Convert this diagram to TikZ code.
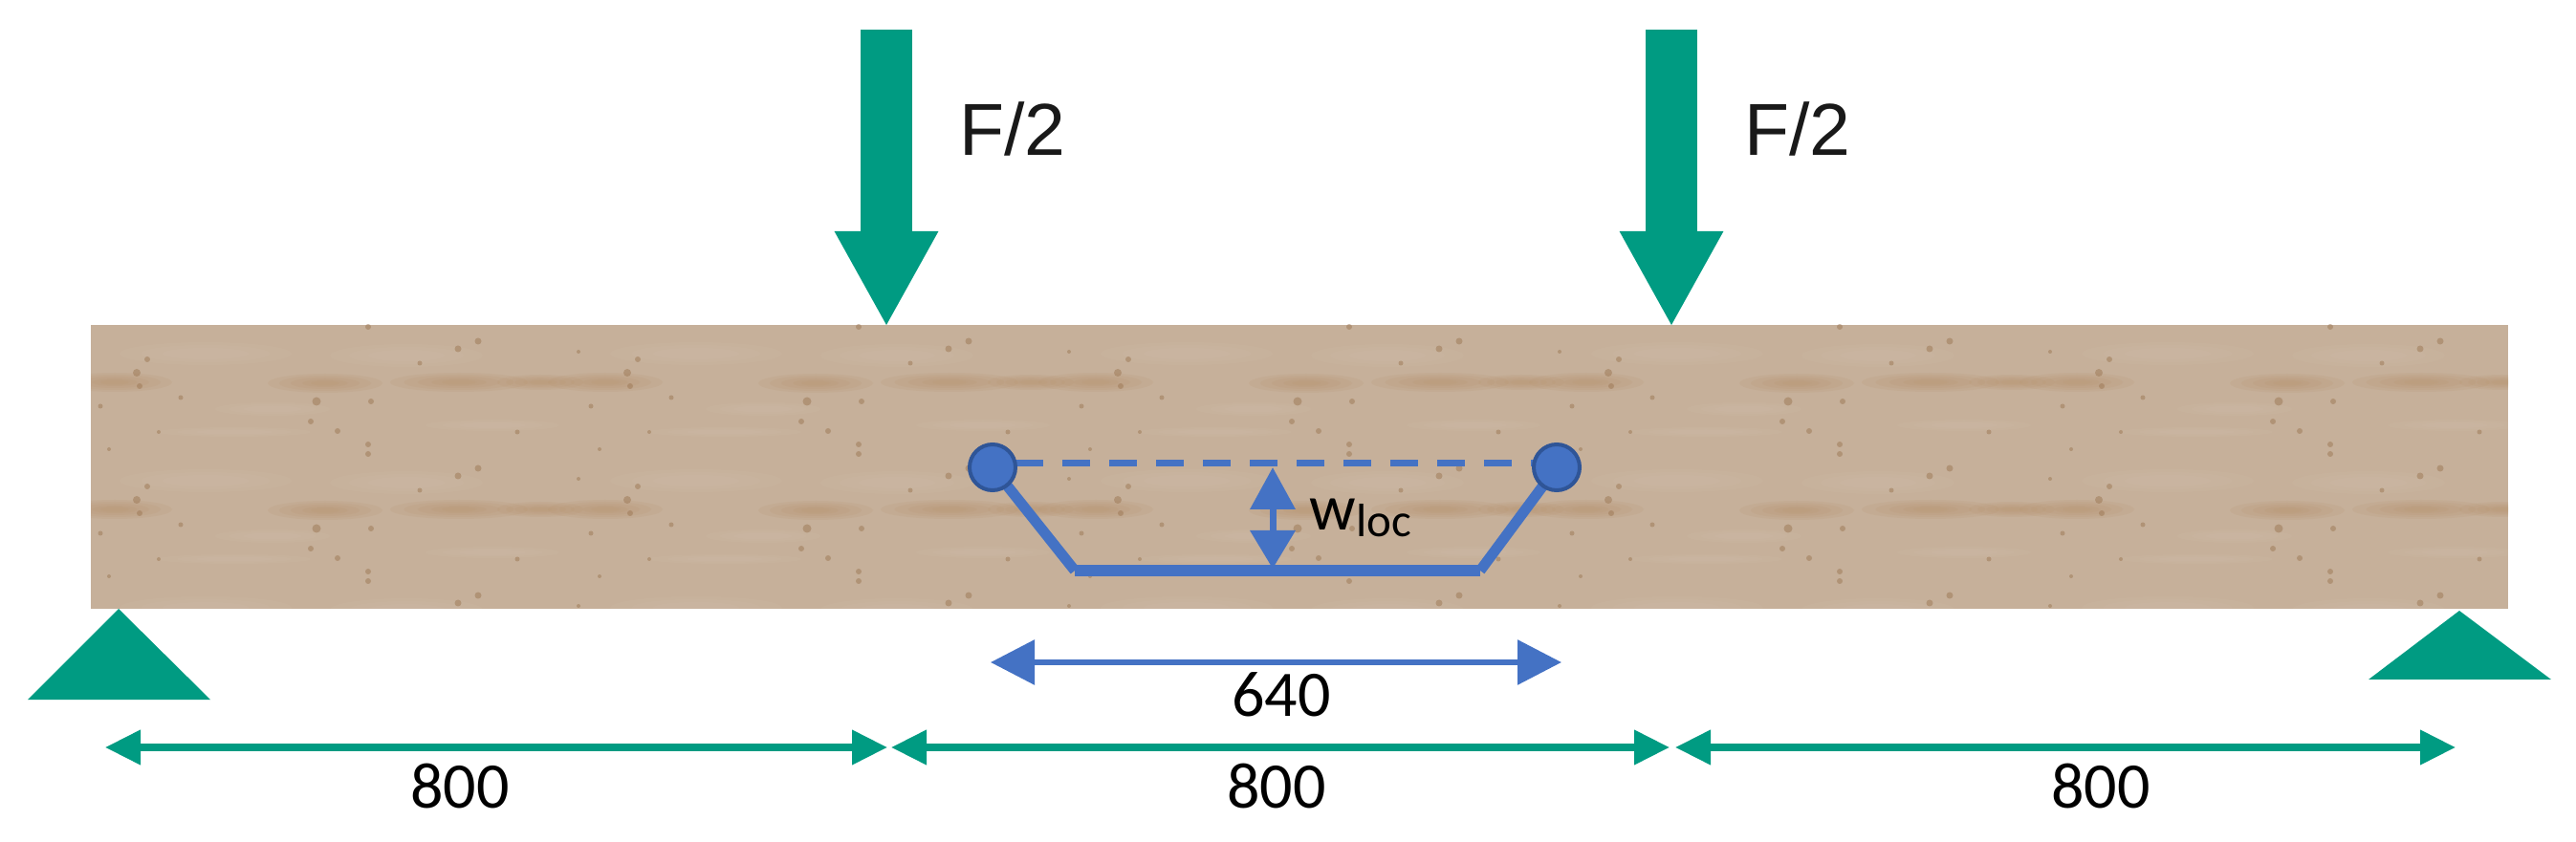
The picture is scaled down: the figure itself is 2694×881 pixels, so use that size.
\documentclass[tikz,border=0pt]{standalone}
\usepackage{fontspec}
\setmainfont{Carlito}
\newfontfamily\arialfont{Liberation Sans}
\usetikzlibrary{arrows.meta}
\definecolor{tealc}{HTML}{009B82}
\definecolor{bluec}{HTML}{4472C4}
\definecolor{bluedk}{HTML}{2F5597}
\definecolor{woodbase}{HTML}{C6B09A}
\definecolor{woodband}{HTML}{B8946F}
\definecolor{woodlight}{HTML}{D6C5B2}
\definecolor{wooddot}{HTML}{9C7753}
\tikzset{
  force/.style={draw=tealc,line width=27pt,-{Triangle[length=50pt,width=50.5pt]}},
  forcelabel/.style={font=\arialfont\fontsize{38.5}{38.5}\selectfont,anchor=base west,inner sep=0pt,text=black!90},
  support/.style={fill=tealc,draw=none},
  dimteal/.style={draw=tealc,line width=3.6pt,{Triangle[length=18.5pt,width=17.5pt]}-{Triangle[length=18.5pt,width=17.5pt]}},
  dimblue/.style={draw=bluec,line width=3pt,{Triangle[length=23pt,width=23pt]}-{Triangle[length=23pt,width=23pt]}},
  wlocarrow/.style={draw=bluec,line width=3.5pt,{Triangle[length=22pt,width=23pt]}-{Triangle[length=20pt,width=23pt]}},
  dimlabel/.style={font=\fontsize{34}{34}\selectfont,inner sep=0pt,text=black},
  hinge/.style={circle,fill=bluec,draw=bluedk,line width=2pt,minimum size=24pt,inner sep=0pt},
  web/.style={draw=bluec,line width=5.5pt,line join=miter},
  webbase/.style={draw=bluec,line width=6.3pt},
  chord/.style={draw=bluec,line width=3.5pt,dash pattern=on 14.5pt off 10pt},
  speck/.style={fill=wooddot,opacity=.5},
  band/.style={fill=woodband,opacity=.16},
  glow/.style={fill=woodlight,opacity=.1}
}
\newcommand{\softband}[4]{% x y rx ry
  \foreach \k in {1,.8,.6,.4,.25}{\fill[band] (#1,#2) ellipse [x radius=\k*#3,y radius=\k*#4];}}
\newcommand{\softglow}[4]{%
  \foreach \k in {1,.75,.5}{\fill[glow] (#1,#2) ellipse [x radius=\k*#3,y radius=\k*#4];}}
\begin{document}
\begin{tikzpicture}[x=.5pt,y=-.5pt]
\useasboundingbox (0,0) rectangle (2694,881);
% timber beam
\begin{scope}
  \clip (95,340) rectangle (2623,637);
  \fill[woodbase] (95,340) rectangle (2623,637);
  \foreach \i in {0,...,4}{\foreach \j in {0,1,2}{
    \begin{scope}[shift={({95+513*\i},{340+133*\j})}]
      \softband{25}{60}{60}{10}
      \softband{245}{61}{60}{10}
      \softband{385}{60}{72}{10}
      \softband{470}{60}{45}{8}
      \softglow{120}{30}{90}{12}
      \softglow{330}{32}{80}{12}
      \softglow{150}{112}{80}{5}
      \softglow{420}{105}{70}{6}
      \softglow{190}{88}{60}{7}
      \foreach \x/\y/\r in {59/36/3,48/50/4,51/64/3,94/76/2.5,10/85/2.5,71/112/2,19/130/2,
        290/2/3,405/17/3.5,384/25/3.5,510/28/2,344/40/2.5,236/80/4.5,293/80/3,
        230/101/3,258/111/3,446/112/2.5,290/125/3}{
        \fill[speck] (\x,\y) circle [radius=\r];}
    \end{scope}}}
\end{scope}
% loads
\coordinate (f1a) at (927,31); \coordinate (f1b) at (927,342);
\coordinate (f2a) at (1748,31); \coordinate (f2b) at (1748,342);
\draw[force] (f1a) -- (f1b);
\draw[force] (f2a) -- (f2b);
\node[forcelabel] (f1t) at (1003,163) {F/2};
\node[forcelabel] (f2t) at (1824,163) {F/2};
% supports
\fill[support] (124,637) -- (220,732) -- (29,732) -- cycle;
\fill[support] (2572,639) -- (2668,711) -- (2477,711) -- cycle;
% deformed shape
\coordinate (cl) at (1038,489); \coordinate (cr) at (1628,489);
\coordinate (bl) at (1124,597); \coordinate (br) at (1548,597);
\coordinate (dl) at (1062,485); \coordinate (dr) at (1606,485);
\draw[chord] (dl) -- (dr);
\draw[web] (cl) -- (bl);
\draw[web] (br) -- (cr);
\draw[webbase] (bl) -- (br);
\node[hinge] (hl) at (cl) {};
\node[hinge] (hr) at (cr) {};
\coordinate (wa) at (1331,489); \coordinate (wb) at (1331,595);
\draw[wlocarrow] (wa) -- (wb);
\node[anchor=base west,inner sep=0pt,text=black] (wl) at (1369,555)
  {\fontsize{34}{34}\selectfont w\raisebox{-3.5pt}{\fontsize{24.5}{24.5}\selectfont loc}};
% dimensions
\coordinate (bla) at (1036,693); \coordinate (blb) at (1633,693);
\draw[dimblue] (bla) -- (blb);
\node[dimlabel] (d640) at (1340,727) {640};
\coordinate (a0) at (110,782); \coordinate (a1) at (928,782);
\coordinate (b0) at (932,782); \coordinate (b1) at (1746,782);
\coordinate (c0) at (1752,782); \coordinate (c1) at (2568,782);
\draw[dimteal] (a0) -- (a1);
\draw[dimteal] (b0) -- (b1);
\draw[dimteal] (c0) -- (c1);
\node[dimlabel] (d1) at (481,823) {800};
\node[dimlabel] (d2) at (1335,823) {800};
\node[dimlabel] (d3) at (2197,823) {800};
\end{tikzpicture}
\end{document}
